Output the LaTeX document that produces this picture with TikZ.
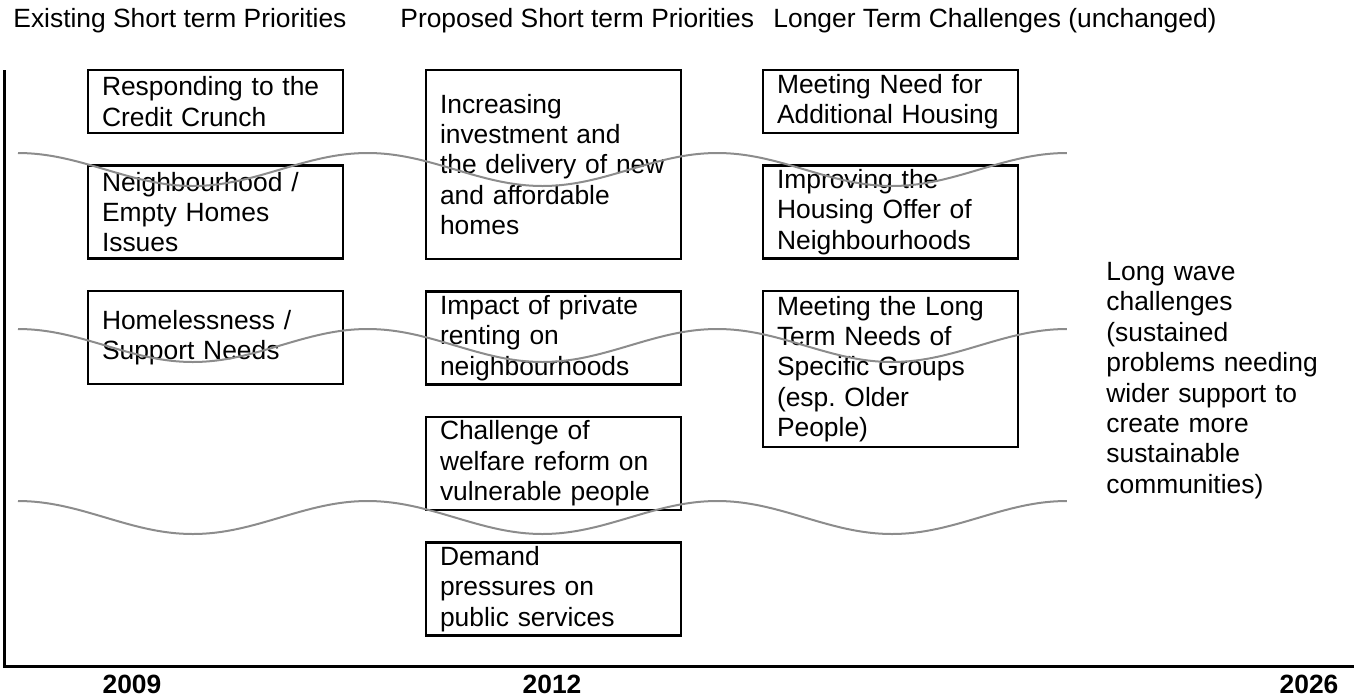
\documentclass[tikz,border=0pt]{standalone}
\usepackage{fontspec}
\setmainfont{Liberation Sans}
\usetikzlibrary{positioning}
\definecolor{wavegray}{gray}{0.55}
\frenchspacing

\begin{document}
\begin{tikzpicture}[x=0.5pt,y=-0.5pt,node distance=16.25pt,
  every node/.style={font=\fontsize{13.2}{15.2}\selectfont},
  prio/.style={draw,line width=1.2pt,outer sep=0pt,text width=113.5pt,inner xsep=7pt,inner ysep=0pt,align=left},
  head/.style={anchor=base west,inner sep=0pt},
  year/.style={anchor=base,inner sep=0pt,font=\fontsize{13.2}{15.2}\selectfont\bfseries},
  wave/.style={draw=wavegray,line width=1pt}]
\useasboundingbox (0,0) rectangle (1354,697);

\node[head] (existing) at (13,27) {Existing Short term Priorities};
\node[head] (proposed) at (400,27) {Proposed Short term Priorities};
\node[head] (longer) at (773,27) {Longer Term Challenges (unchanged)};

% existing priorities
\node[prio,minimum height=31.5pt,anchor=north west] (crunch) at (88,70) {Responding to the\\Credit Crunch};
\node[prio,minimum height=46.5pt] (empty) [below=of crunch] {Neighbourhood /\\Empty Homes\\Issues};
\node[prio,minimum height=46.5pt] (homeless) [below=of empty] {Homelessness /\\Support Needs};

% proposed priorities
\node[prio,minimum height=94.5pt,anchor=north west] (invest) at (426,70) {Increasing\\investment and\\the delivery of new\\and affordable\\homes};
\node[prio,minimum height=46.5pt] (renting) [below=of invest] {Impact of private\\renting on\\neighbourhoods};
\node[prio,minimum height=46.5pt] (welfare) [below=of renting] {Challenge of\\welfare reform on\\vulnerable people};
\node[prio,minimum height=46.5pt] (demand) [below=of welfare] {Demand\\pressures on\\public services};

% longer term
\node[prio,minimum height=31.5pt,anchor=north west] (need) at (763,70) {Meeting Need for\\Additional Housing};
\node[prio,minimum height=46.5pt] (offer) [below=of need] {Improving the\\Housing Offer of\\Neighbourhoods};
\node[prio,minimum height=78pt] (groups) [below=of offer] {Meeting the Long\\Term Needs of\\Specific Groups\\(esp. Older\\People)};

\node[anchor=north west,inner sep=0pt,text width=125pt,align=left] (longwave) at (1106,262) {Long wave\\challenges\\(sustained\\problems needing\\wider support to\\create more\\sustainable\\communities)};

% time axis
\draw[line width=1.5pt] (4,70) -- (4,666) -- (1354,666);
\node[year] (y2009) at (132,693) {2009};
\node[year] (y2012) at (552,693) {2012};
\node[year] (y2026) at (1309,693) {2026};

% waves
\foreach \wy in {153,329,501}
  \draw[wave] (18,\wy) foreach \k in {1,2,3} {cos ++(87.4,16.5) sin ++(87.4,16.5) cos ++(87.4,-16.5) sin ++(87.4,-16.5)};
\end{tikzpicture}
\end{document}
